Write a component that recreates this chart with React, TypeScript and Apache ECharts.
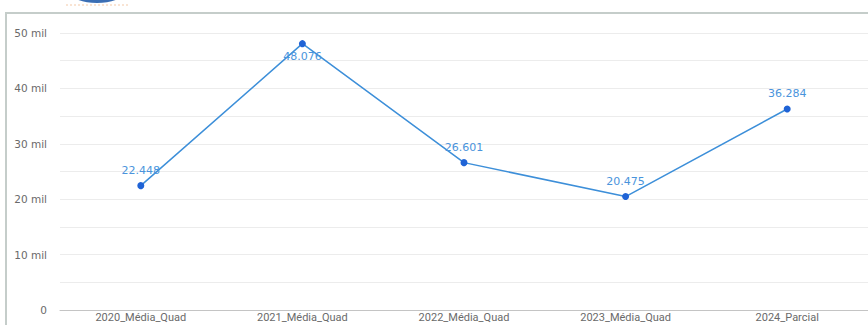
import React, { useEffect, useRef } from "react";
import * as echarts from "echarts";

const categories = ["2020_Média_Quad", "2021_Média_Quad", "2022_Média_Quad", "2023_Média_Quad", "2024_Parcial"];
const values = [22448, 48076, 26601, 20475, 36284];
const yTicks = [0, 10000, 20000, 30000, 40000, 50000];
const yTickLabels = ["0", "10 mil", "20 mil", "30 mil", "40 mil", "50 mil"];

function fmt(v: number): string {
  const s = String(Math.round(v));
  return s.replace(/\B(?=(\d{3})+(?!\d))/g, ".");
}

const FONT = "'DejaVu Sans', sans-serif";

export default function App() {
  const ref = useRef<HTMLDivElement>(null);
  useEffect(() => {
    if (!ref.current) return;
    const chart = echarts.init(ref.current, null, { renderer: "svg" });
    const maxIdx = values.indexOf(Math.max(...values));
    chart.setOption({
      animation: false,
      backgroundColor: "#ffffff",
      graphic: [
        {
          type: "ellipse",
          shape: { cx: 97, cy: -10, rx: 29, ry: 13 },
          style: { fill: "#3b6fb5" },
          z: 0,
        },
        {
          type: "line",
          shape: { x1: 66, y1: 5, x2: 130, y2: 5 },
          style: { stroke: "#f3c9a8", lineWidth: 1, lineDash: [2, 2] },
          z: 0,
        },
        {
          type: "rect",
          shape: { x: 6, y: 13, width: 900, height: 400 },
          style: { fill: "none", stroke: "#c5cdca", lineWidth: 2 },
          z: 0,
        },
      ],
      grid: { left: 60, top: 33, width: 814, bottom: 15, containLabel: false },
      xAxis: {
        type: "category",
        data: categories,
        boundaryGap: true,
        axisLine: { show: true, lineStyle: { color: "#c4c4c4", width: 1 } },
        axisTick: { show: false },
        axisLabel: {
          color: "#6a6a6a",
          fontSize: 11,
          lineHeight: 11,
          margin: 2,
          fontFamily: "Roboto, sans-serif",
          interval: 0,
        },
      },
      yAxis: {
        type: "value",
        min: 0,
        max: 50000,
        interval: 5000,
        axisLine: { show: false },
        axisTick: { show: false },
        splitLine: { lineStyle: { color: "#ececec", width: 1 } },
        axisLabel: {
          color: "#6a6a6a",
          fontSize: 10.5,
          margin: 13,
          fontFamily: FONT,
          formatter: (v: number) => {
            const i = yTicks.indexOf(v);
            return i >= 0 ? yTickLabels[i] : "";
          },
        },
      },
      series: [
        {
          type: "line",
          data: values.map((v, i) => ({
            value: v,
            label: i === maxIdx ? { position: "bottom", distance: 4 } : undefined,
          })),
          symbol: "circle",
          symbolSize: 7,
          itemStyle: { color: "#1f63d6" },
          lineStyle: { color: "#3d8fd9", width: 1.5 },
          label: {
            show: true,
            position: "top",
            distance: 6,
            color: "#4a94dc",
            fontSize: 11,
            fontFamily: FONT,
            formatter: (p: any) => fmt(p.value),
          },
        },
      ],
    });
    return () => chart.dispose();
  }, []);
  return (
    <div
      ref={ref}
      style={{ position: "fixed", left: 0, top: 0, width: 868, height: 325, background: "#fff" }}
    />
  );
}
